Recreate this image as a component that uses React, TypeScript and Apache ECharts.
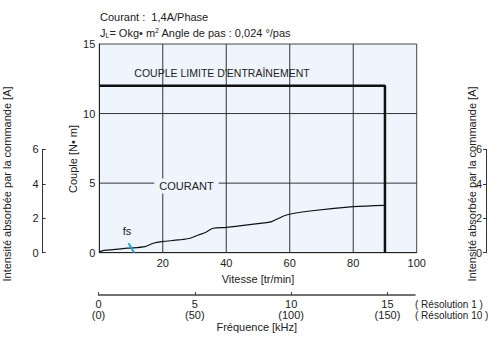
import React, { useEffect, useRef } from "react";
import * as echarts from "echarts";

// Speed axis (tr/min) and torque axis (N·m)
const speedTicks = [0, 20, 40, 60, 80, 100];
const torqueTicks = [0, 5, 10, 15];
const currentTicks = [0, 2, 4, 6];
const freqTicks = [0, 5, 10, 15];

// Couple limite d'entraînement (N·m)
const limitSpeed = [0, 90, 90];
const limitTorque = [12, 12, 0];

// Courant absorbé (A) vs vitesse
const currentSpeed = [0, 1.5, 9, 14.4, 17, 19.7, 25, 28.6, 31.2, 33.3, 35.9, 40, 52.7, 54.3, 59, 66.4, 80, 90];
const currentAmp = [0.05, 0.13, 0.26, 0.35, 0.55, 0.64, 0.74, 0.84, 1.03, 1.16, 1.42, 1.47, 1.74, 1.8, 2.19, 2.42, 2.67, 2.75];

// fs marker (speed, torque)
const fsSpeed = [9.2, 11.0];
const fsTorque = [0.68, 0];

const FONT = "Liberation Sans";
const TXT = "#222";
const PL = 99.3, PR = 416.7, PT = 44, PB = 252.7;

export default function App() {
  const ref = useRef<HTMLDivElement>(null);
  useEffect(() => {
    if (!ref.current) return;
    const chart = echarts.init(ref.current, undefined, { renderer: "svg" });
    const xMin = speedTicks[0], xMax = speedTicks[speedTicks.length - 1];
    const yMin = torqueTicks[0], yMax = torqueTicks[torqueTicks.length - 1];
    const gridSegments = [
      ...speedTicks.slice(1, -1).map((v) => [[v, yMin], [v, yMax]]),
      ...torqueTicks.slice(1, -1).map((v) => [[xMin, v], [xMax, v]]),
    ];
    const gridSeries = gridSegments.map((seg, i) => ({
      name: "grille" + i, type: "line", xAxisIndex: 0, yAxisIndex: 0, data: seg,
      symbol: "none", silent: true, z: 2,
      lineStyle: { color: "#333", width: 1 },
    }));
    const option: any = {
      animation: false,
      textStyle: { fontFamily: FONT, color: TXT, fontSize: 11 },
      grid: [
        { left: PL, right: 488 - PR, top: PT, bottom: 342 - PB, show: true, backgroundColor: "#eef5fc", borderColor: "#444", borderWidth: 1 },
        { left: PL, right: 488 - PR, top: 149.3, bottom: 342 - PB },
        { left: 98.5, width: 316.5, top: 280, bottom: 47 },
      ],
      xAxis: [
        {
          gridIndex: 0, type: "value", min: xMin, max: xMax, interval: 20,
          axisLine: { show: true, onZero: false, lineStyle: { color: "#222" } },
          axisTick: { show: false },
          axisLabel: { showMinLabel: false, margin: 5, fontSize: 11, color: TXT, fontFamily: FONT },
          splitLine: { show: false },
          name: "Vitesse [tr/min]", nameLocation: "middle", nameGap: 21,
          nameTextStyle: { fontSize: 11, color: TXT, fontFamily: FONT },
        },
        { gridIndex: 1, type: "value", min: 0, max: 100, show: false },
        {
          gridIndex: 2, type: "value", min: 0, max: 16.43, interval: 5,
          axisLine: { show: true, onZero: false, lineStyle: { color: "#444", width: 1.5 } },
          axisTick: { inside: true, length: 3, lineStyle: { color: "#444" }, customValues: freqTicks },
          axisLabel: {
            customValues: freqTicks, margin: 3, fontSize: 11, lineHeight: 11.5, color: TXT, fontFamily: FONT,
            formatter: (v: number) => `${v}\n(${v * 10})`,
          },
          splitLine: { show: false },
          name: "Fréquence [kHz]", nameLocation: "middle", nameGap: 26,
          nameTextStyle: { fontSize: 11, color: TXT, fontFamily: FONT },
        },
      ],
      yAxis: [
        {
          gridIndex: 0, type: "value", min: yMin, max: yMax, interval: 5,
          axisLine: { show: true, onZero: false, lineStyle: { color: "#222" } },
          axisTick: { show: false },
          axisLabel: { margin: 4, fontSize: 11, color: TXT, fontFamily: FONT },
          splitLine: { show: false },
        },
        {
          gridIndex: 1, type: "value", min: currentTicks[0], max: currentTicks[currentTicks.length - 1], interval: 2,
          position: "left", offset: 56.6,
          axisLine: { show: true, onZero: false, lineStyle: { color: "#333" } },
          axisTick: { show: true, inside: true, length: 3, lineStyle: { color: "#333" } },
          axisLabel: { margin: 4, fontSize: 11, color: TXT, fontFamily: FONT },
          splitLine: { show: false },
        },
        {
          gridIndex: 1, type: "value", min: currentTicks[0], max: currentTicks[currentTicks.length - 1], interval: 2,
          position: "right", offset: 69.4,
          axisLine: { show: true, onZero: false, lineStyle: { color: "#333" } },
          axisTick: { show: true, inside: true, length: 3, lineStyle: { color: "#333" } },
          axisLabel: { inside: true, margin: 4, fontSize: 11, color: TXT, fontFamily: FONT },
          splitLine: { show: false },
        },
        { gridIndex: 2, type: "value", show: false },
      ],
      series: [
        ...gridSeries,
        {
          name: "Couple limite", type: "line", xAxisIndex: 0, yAxisIndex: 0,
          data: limitSpeed.map((s, i) => [s, limitTorque[i]]),
          symbol: "none", lineStyle: { color: "#111", width: 2.5 }, z: 5,
        },
        {
          name: "Courant", type: "line", xAxisIndex: 1, yAxisIndex: 1,
          data: currentSpeed.map((s, i) => [s, currentAmp[i]]),
          symbol: "none", smooth: 0.3, lineStyle: { color: "#111", width: 1.2 }, z: 5,
        },
        {
          name: "fs", type: "line", xAxisIndex: 0, yAxisIndex: 0,
          data: fsSpeed.map((s, i) => [s, fsTorque[i]]),
          symbol: "none", lineStyle: { color: "#1ea4e4", width: 2 }, z: 6,
        },
      ],
      graphic: [
        { type: "text", x: 100, y: 17, z: 100, style: { text: "Courant :  1,4A/Phase", fontSize: 11, fontFamily: FONT, fill: TXT, verticalAlign: "middle" } },
        {
          type: "text", x: 100, y: 33, z: 100,
          style: {
            text: "J{sub|L}= Okg• m{sup|2} Angle de pas : 0,024 °/pas",
            fontSize: 11, fontFamily: FONT, fill: TXT, verticalAlign: "middle",
            rich: {
              sub: { fontSize: 7, fontFamily: FONT, fill: TXT, padding: [4, 0, 0, 0] },
              sup: { fontSize: 7, fontFamily: FONT, fill: TXT, padding: [0, 0, 5, 0] },
            },
          },
        },
        { type: "text", x: 222, y: 72.7, z: 100, style: { text: "COUPLE LIMITE D'ENTRAÎNEMENT", fontSize: 10.5, fontFamily: FONT, fill: TXT, align: "center", verticalAlign: "middle" } },
        { type: "text", x: 186.5, y: 186, z: 100, style: { text: "COURANT", fontSize: 11, fontFamily: FONT, fill: TXT, align: "center", verticalAlign: "middle", backgroundColor: "#eef5fc", padding: [2, 5] } },
        { type: "text", x: 127, y: 231, z: 100, style: { text: "fs", fontSize: 11, fontFamily: FONT, fill: TXT, align: "center", verticalAlign: "middle" } },
        { type: "text", x: 73, y: 159, z: 100, rotation: Math.PI / 2, style: { text: "Couple [N• m]", fontSize: 11, fontFamily: FONT, fill: TXT, align: "center", verticalAlign: "middle" } },
        { type: "text", x: 6.5, y: 184, z: 100, rotation: Math.PI / 2, style: { text: "Intensité absorbée par la commande [A]", fontSize: 11, fontFamily: FONT, fill: TXT, align: "center", verticalAlign: "middle" } },
        { type: "text", x: 472, y: 184, z: 100, rotation: Math.PI / 2, style: { text: "Intensité absorbée par la commande [A]", fontSize: 11, fontFamily: FONT, fill: TXT, align: "center", verticalAlign: "middle" } },
        { type: "text", x: 415, y: 304, z: 100, style: { text: "( Résolution 1 )", fontSize: 10, fontFamily: FONT, fill: TXT, verticalAlign: "middle" } },
        { type: "text", x: 415, y: 315.5, z: 100, style: { text: "( Résolution 10 )", fontSize: 10, fontFamily: FONT, fill: TXT, verticalAlign: "middle" } },
      ],
    };
    chart.setOption(option);
    return () => chart.dispose();
  }, []);
  return <div ref={ref} style={{ width: 488, height: 342, position: "absolute", left: 0, top: 0 }} />;
}
